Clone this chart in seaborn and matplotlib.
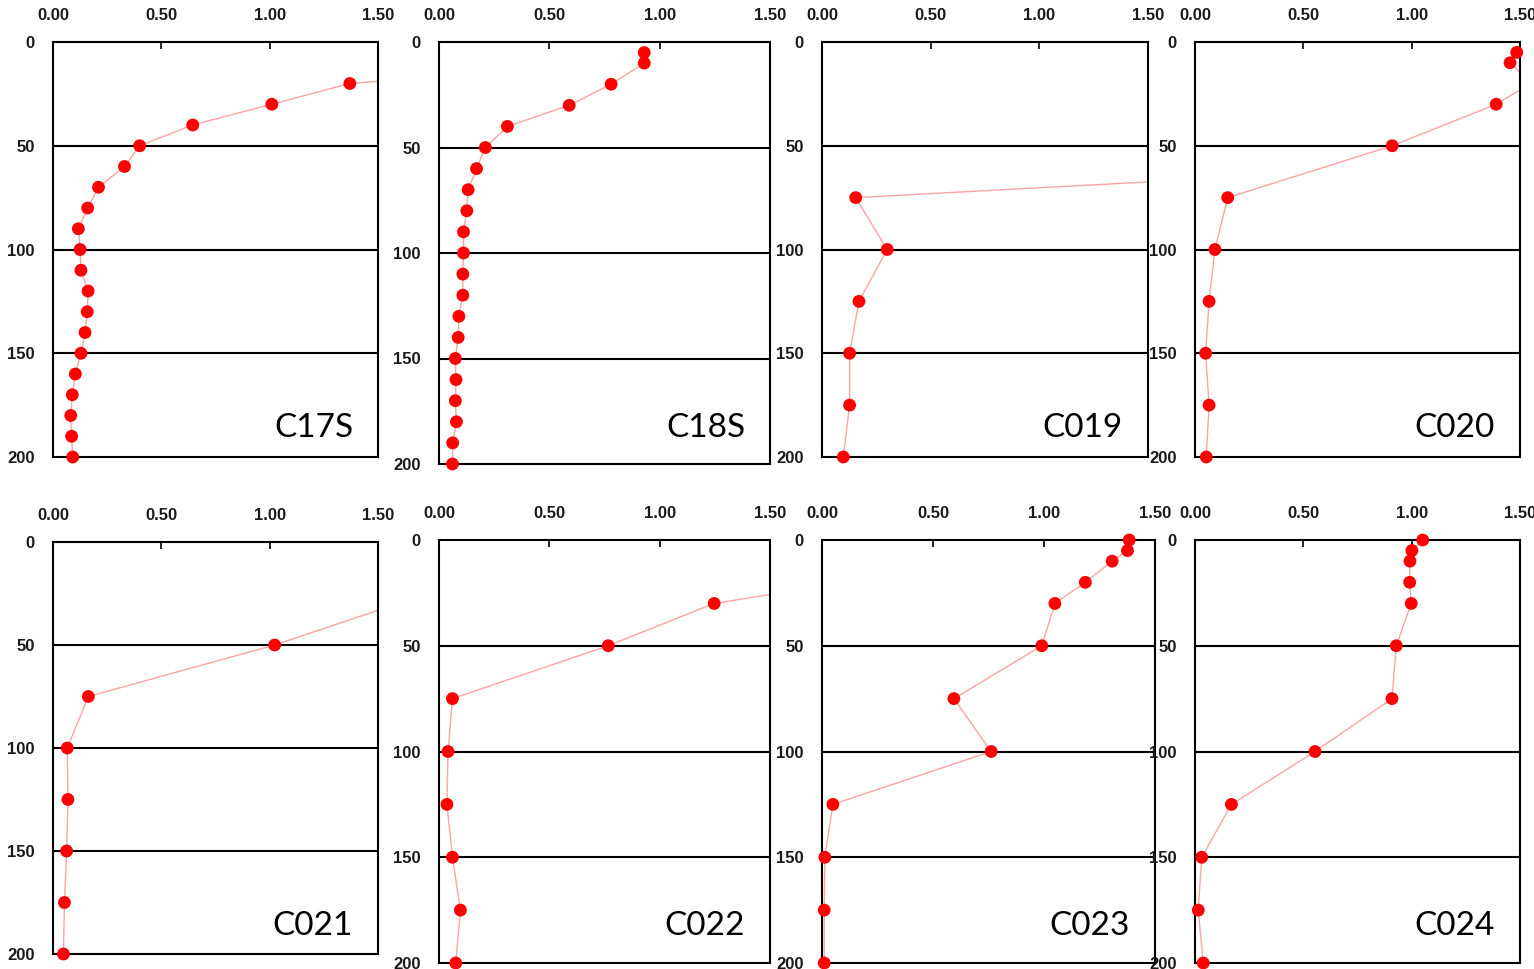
import numpy as np
import pandas as pd
import matplotlib
matplotlib.use("Agg")
import matplotlib.pyplot as plt
import seaborn as sns

sns.set_style("white")
plt.rcParams['font.family'] = ['Liberation Sans', 'DejaVu Sans']

# station names, in panel order
stations = ["C17S", "C18S", "C019", "C020", "C021", "C022", "C023", "C024"]

# depth and value per station (values above 1.5 run off the panel)
c17s_depth = [10, 20, 30, 40, 50, 60, 70, 80, 90, 100, 110, 120, 130, 140, 150, 160, 170, 180, 190, 200]
c17s_value = [2.60, 1.37, 1.01, 0.645, 0.40, 0.33, 0.21, 0.16, 0.117, 0.125, 0.129, 0.162, 0.158, 0.148,
              0.129, 0.103, 0.089, 0.082, 0.086, 0.091]

c18s_depth = [5, 10, 20, 30, 40, 50, 60, 70, 80, 90, 100, 110, 120, 130, 140, 150, 160, 170, 180, 190, 200]
c18s_value = [0.93, 0.93, 0.78, 0.59, 0.31, 0.21, 0.17, 0.132, 0.126, 0.111, 0.111, 0.108, 0.108, 0.090,
              0.087, 0.074, 0.077, 0.074, 0.079, 0.062, 0.061]

c019_depth = [50, 75, 100, 125, 150, 175, 200]
c019_value = [4.6, 0.155, 0.30, 0.17, 0.127, 0.127, 0.098]

c020_depth = [5, 10, 20, 30, 50, 75, 100, 125, 150, 175, 200]
c020_value = [1.485, 1.454, 1.55, 1.39, 0.91, 0.151, 0.092, 0.065, 0.049, 0.065, 0.052]

c021_depth = [30, 50, 75, 100, 125, 150, 175, 200]
c021_value = [1.59, 1.023, 0.163, 0.066, 0.069, 0.063, 0.053, 0.048]

c022_depth = [20, 30, 50, 75, 100, 125, 150, 175, 200]
c022_value = [1.85, 1.247, 0.767, 0.061, 0.041, 0.036, 0.061, 0.097, 0.076]

c023_depth = [0, 5, 10, 20, 30, 50, 75, 100, 125, 150, 175, 200]
c023_value = [1.384, 1.376, 1.307, 1.186, 1.049, 0.990, 0.594, 0.762, 0.049, 0.013, 0.010, 0.010]

c024_depth = [0, 5, 10, 20, 30, 50, 75, 100, 125, 150, 175, 200]
c024_value = [1.051, 1.001, 0.992, 0.991, 0.998, 0.929, 0.909, 0.554, 0.168, 0.031, 0.015, 0.038]

x_ticks = [0, 0.5, 1.0, 1.5]
x_labels = ["0.00", "0.50", "1.00", "1.50"]
y_ticks = [0, 50, 100, 150, 200]
ref_lines = [50, 100, 150]

profiles = [(c17s_depth, c17s_value), (c18s_depth, c18s_value), (c019_depth, c019_value),
            (c020_depth, c020_value), (c021_depth, c021_value), (c022_depth, c022_value),
            (c023_depth, c023_value), (c024_depth, c024_value)]

W, H = 1534, 969
fig = plt.figure(figsize=(W / 100, H / 100), dpi=100)

# panel boxes in pixels: left, top, right, bottom, label baseline
boxes = [(53, 42, 378, 457, 437), (439, 42, 770, 464, 437), (822, 42, 1148, 457, 437),
         (1195, 42, 1520, 457, 437), (53, 542, 378, 954, 935), (439, 540, 770, 963, 935),
         (822, 540, 1155, 963, 935), (1195, 540, 1520, 963, 935)]

for name, (depth, value), (x0, y0, x1, y1, yb) in zip(stations, profiles, boxes):
    ax = fig.add_axes([x0 / W, 1 - y1 / H, (x1 - x0) / W, (y1 - y0) / H])
    df = pd.DataFrame({"value": value, "depth": depth})

    sns.lineplot(data=df, x="value", y="depth", sort=False, estimator=None,
                 color="#ffa3a3", lw=1, ax=ax)
    inside = df[df["value"] <= 1.5]
    sns.scatterplot(data=inside, x="value", y="depth", color="#ff0000", s=85,
                    edgecolor="none", clip_on=False, zorder=3, ax=ax)

    for yy in ref_lines:
        ax.axhline(yy, color="black", lw=1.5, zorder=1)

    ax.set_xlim(0, 1.5)
    ax.set_ylim(200, 0)
    ax.xaxis.tick_top()
    ax.set_xticks(x_ticks)
    ax.set_xticklabels(x_labels, fontweight="bold")
    ax.set_yticks(y_ticks)
    ax.set_yticklabels([str(t) for t in y_ticks], fontweight="bold")
    ax.tick_params(axis="x", direction="in", length=5, width=1.2, pad=14, labelsize=12,
                   top=True, bottom=False, colors="black", labelcolor="#1a1a1a")
    ax.tick_params(axis="y", length=0, pad=13, labelsize=12, colors="black", labelcolor="#1a1a1a")
    ax.set_xlabel("")
    ax.set_ylabel("")
    for s in ax.spines.values():
        s.set_color("black")
        s.set_linewidth(1.5)

    x_lab = 1 - 25 / (x1 - x0)
    y_lab = (y1 - yb) / (y1 - y0)
    ax.text(x_lab, y_lab, name, transform=ax.transAxes, ha="right", va="baseline",
            fontsize=24, family=["Lato", "DejaVu Sans"], color="black")

fig.savefig("out.png", dpi=100)
